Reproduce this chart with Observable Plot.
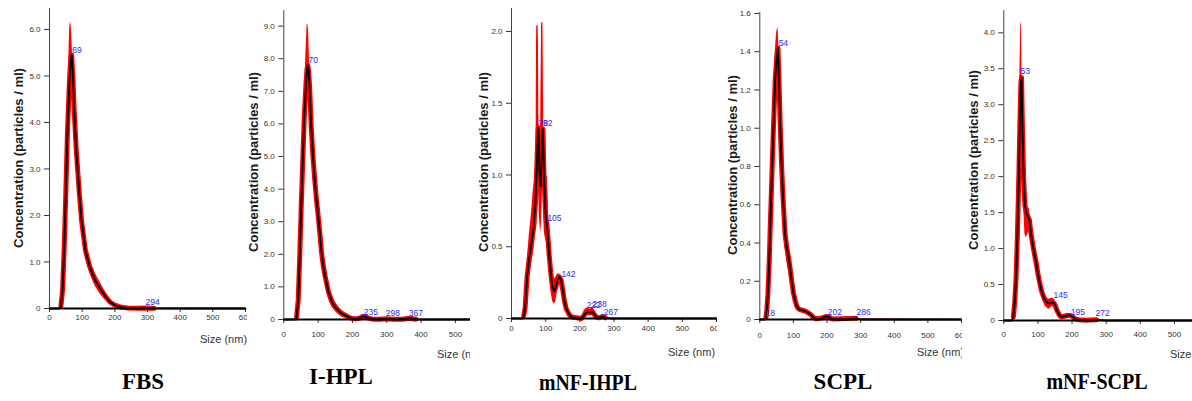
<!DOCTYPE html>
<html><head><meta charset="utf-8">
<script src="https://cdn.jsdelivr.net/npm/d3@7"></script>
<script src="https://cdn.jsdelivr.net/npm/@observablehq/plot@0.6"></script>
<style>
body{margin:0;background:#fff;}
#root{position:relative;width:1192px;height:401px;overflow:hidden;background:#fff;font-family:"Liberation Sans",Arial,sans-serif;}
.panel{position:absolute;top:0;height:372px;overflow:hidden;background:#fff;}
.panel svg{position:absolute;left:0;top:0;}
.ytitle{position:absolute;transform:translate(-50%,-50%) rotate(-90deg);font-weight:bold;font-size:13px;white-space:nowrap;color:#1a1a1a;z-index:5;}
.xtitle{position:absolute;font-size:11px;color:#333;white-space:nowrap;transform:translateY(-50%);}
.name{position:absolute;font-family:"Liberation Serif","Times New Roman",serif;font-weight:bold;font-size:23px;white-space:nowrap;color:#000;z-index:5;}
</style></head><body><div id="root"></div>
<script>
// ---------- data ----------
const panelNames = ["FBS", "I-HPL", "mNF-IHPL", "SCPL", "mNF-SCPL"];
const yTitle = "Concentration (particles / ml)";
const xTitle = "Size (nm)";

// FBS
const fbsSize = [0, 30, 35, 40, 45, 50, 55, 60, 62, 64, 66, 68, 72, 76, 82, 90, 98, 110, 123, 140, 156, 170, 185, 200, 220, 240, 270, 294, 320, 600];
const fbsMean = [0, 0, 0.05, 0.4, 1.3, 2.5, 3.8, 4.7, 5.0, 5.25, 5.4, 5.45, 4.9, 4.2, 3.4, 2.6, 1.9, 1.25, 0.9, 0.6, 0.42, 0.27, 0.14, 0.07, 0.025, 0.01, 0.005, 0.012, 0.003, 0];
const fbsHi   = [0, 0, 0.08, 0.55, 1.6, 3.0, 4.4, 5.6, 6.05, 6.15, 6.1, 5.9, 5.2, 4.4, 3.55, 2.75, 2.05, 1.4, 1.05, 0.75, 0.55, 0.36, 0.2, 0.1, 0.04, 0.02, 0.01, 0.02, 0.005, 0];
const fbsLo   = [0, 0, 0.02, 0.3, 1.1, 2.2, 3.4, 4.3, 4.6, 4.9, 5.1, 5.2, 4.7, 4.0, 3.25, 2.45, 1.75, 1.1, 0.78, 0.48, 0.3, 0.19, 0.09, 0.04, 0.01, 0, 0, 0.005, 0, 0];
const fbsPeakX = [70, 294];
const fbsPeakY = [5.55, 0.13];
const fbsPeakT = ["69", "294"];

// I-HPL
const ihplSize = [0, 33, 37, 42, 46, 50, 55, 60, 65, 68, 70, 72, 75, 80, 85, 90, 95, 100, 105, 110, 115, 120, 130, 140, 150, 160, 170, 180, 190, 200, 210, 220, 230, 235, 245, 260, 280, 298, 320, 345, 367, 385, 400, 545];
const ihplMean = [0, 0, 0.05, 0.6, 1.8, 3.2, 4.8, 6.3, 7.3, 7.7, 7.8, 7.65, 7.2, 5.9, 5.0, 4.3, 3.7, 3.2, 2.65, 2.05, 1.65, 1.35, 0.85, 0.55, 0.38, 0.26, 0.17, 0.12, 0.07, 0.03, 0.02, 0.04, 0.09, 0.1, 0.05, 0.01, 0.005, 0.02, 0.005, 0.01, 0.04, 0.01, 0, 0];
const ihplHi   = [0, 0, 0.1, 0.8, 2.1, 3.6, 5.2, 6.8, 8.3, 9.05, 9.05, 8.9, 7.9, 6.2, 5.25, 4.55, 3.95, 3.45, 2.9, 2.3, 1.9, 1.6, 1.05, 0.75, 0.52, 0.38, 0.27, 0.2, 0.13, 0.07, 0.05, 0.08, 0.14, 0.15, 0.09, 0.03, 0.015, 0.04, 0.015, 0.02, 0.06, 0.02, 0, 0];
const ihplLo   = [0, 0, 0.02, 0.4, 1.5, 2.8, 4.4, 5.9, 6.6, 6.7, 6.7, 6.6, 6.5, 5.6, 4.75, 4.05, 3.45, 2.95, 2.4, 1.8, 1.4, 1.1, 0.65, 0.38, 0.25, 0.15, 0.08, 0.05, 0.02, 0.005, 0, 0.01, 0.05, 0.06, 0.02, 0, 0, 0.005, 0, 0, 0.02, 0, 0, 0];
const ihplPeakX = [72, 233, 297, 364];
const ihplPeakY = [7.94, 0.21, 0.18, 0.18];
const ihplPeakT = ["70", "235", "298", "367"];

// mNF-IHPL
const mihSize = [0, 32, 36, 40, 46, 52, 58, 64, 70, 72, 73, 74, 76, 78, 79, 80, 82, 85, 87, 88, 90, 92, 93, 94, 96, 100, 105, 110, 115, 120, 125, 130, 135, 140, 145, 150, 155, 160, 168, 176, 190, 205, 212, 218, 224, 230, 236, 242, 248, 255, 262, 267, 275, 290, 360, 600];
const mihMean = [0, 0, 0.02, 0.08, 0.3, 0.42, 0.52, 0.62, 0.8, 0.92, 1.0, 1.05, 1.2, 1.33, 1.28, 1.2, 1.0, 0.92, 1.02, 1.1, 1.25, 1.32, 1.22, 1.1, 0.95, 0.72, 0.62, 0.45, 0.32, 0.22, 0.19, 0.22, 0.27, 0.29, 0.27, 0.2, 0.12, 0.07, 0.03, 0.01, 0, 0, 0.02, 0.04, 0.045, 0.04, 0.05, 0.03, 0.01, 0.005, 0.01, 0.015, 0.005, 0, 0, 0];
const mihHi   = [0, 0, 0.04, 0.12, 0.4, 0.58, 0.72, 0.9, 1.0, 1.2, 1.9, 2.04, 2.04, 2.04, 1.9, 1.4, 1.3, 1.25, 1.8, 2.06, 2.06, 2.06, 1.8, 1.4, 1.2, 1.0, 0.98, 0.6, 0.42, 0.3, 0.27, 0.29, 0.31, 0.31, 0.3, 0.25, 0.16, 0.1, 0.05, 0.02, 0, 0.01, 0.05, 0.07, 0.075, 0.065, 0.08, 0.06, 0.025, 0.01, 0.02, 0.025, 0.01, 0, 0, 0];
const mihLo   = [0, 0, 0.005, 0.05, 0.22, 0.3, 0.38, 0.45, 0.6, 0.62, 0.64, 0.65, 0.8, 0.95, 0.9, 0.85, 0.7, 0.6, 0.64, 0.68, 0.85, 0.95, 0.85, 0.75, 0.6, 0.55, 0.5, 0.32, 0.2, 0.12, 0.1, 0.12, 0.2, 0.25, 0.22, 0.14, 0.08, 0.04, 0.01, 0, 0, 0, 0.005, 0.02, 0.02, 0.02, 0.03, 0.01, 0, 0, 0, 0.005, 0, 0, 0, 0];
const mihPeakX = [79, 92, 105, 146, 220, 237, 270];
const mihPeakY = [1.36, 1.36, 0.7, 0.31, 0.09, 0.1, 0.04];
const mihPeakT = ["78", "92", "105", "142", "222", "238", "267"];

// SCPL
const scplSize = [0, 15, 18, 21, 24, 28, 31, 35, 39, 43, 46, 50, 54, 57, 61, 65, 69, 75, 80, 85, 90, 95, 100, 105, 110, 115, 122, 129, 137, 144, 152, 159, 166, 173, 185, 198, 205, 215, 230, 260, 286, 300, 600];
const scplMean = [0, 0, 0.01, 0.05, 0.13, 0.3, 0.48, 0.7, 0.92, 1.12, 1.26, 1.36, 1.42, 1.25, 1.0, 0.8, 0.64, 0.45, 0.38, 0.33, 0.27, 0.2, 0.14, 0.1, 0.07, 0.056, 0.05, 0.047, 0.042, 0.035, 0.025, 0.012, 0.004, 0, 0.008, 0.016, 0.014, 0.003, 0, 0, 0.006, 0, 0];
const scplHi   = [0, 0, 0.02, 0.07, 0.16, 0.34, 0.53, 0.76, 1.0, 1.22, 1.4, 1.5, 1.53, 1.42, 1.08, 0.88, 0.71, 0.52, 0.45, 0.4, 0.33, 0.25, 0.18, 0.13, 0.09, 0.07, 0.062, 0.058, 0.052, 0.045, 0.033, 0.02, 0.01, 0.004, 0.014, 0.024, 0.02, 0.007, 0.002, 0, 0.01, 0.002, 0];
const scplLo   = [0, 0, 0, 0.03, 0.1, 0.26, 0.43, 0.64, 0.85, 1.02, 1.12, 1.18, 1.25, 1.15, 0.93, 0.73, 0.57, 0.38, 0.31, 0.26, 0.21, 0.15, 0.1, 0.07, 0.05, 0.042, 0.038, 0.036, 0.032, 0.025, 0.017, 0.006, 0, 0, 0.003, 0.008, 0.008, 0, 0, 0, 0.002, 0, 0];
const scplPeakX = [56, 17, 202, 288];
const scplPeakY = [1.445, 0.03, 0.04, 0.04];
const scplPeakT = ["54", "18", "202", "286"];

// mNF-SCPL
const mscSize = [0, 24, 28, 32, 36, 40, 44, 47, 50, 52, 55, 58, 62, 66, 70, 75, 80, 85, 90, 95, 100, 105, 110, 115, 120, 125, 130, 135, 140, 145, 150, 155, 160, 165, 170, 180, 188, 195, 202, 210, 220, 240, 272, 300, 553];
const mscMean = [0, 0, 0.05, 0.25, 0.6, 1.2, 2.0, 2.7, 3.3, 3.38, 2.6, 2.0, 1.6, 1.5, 1.45, 1.4, 1.2, 1.05, 0.92, 0.8, 0.65, 0.53, 0.42, 0.35, 0.29, 0.26, 0.24, 0.24, 0.25, 0.25, 0.22, 0.15, 0.1, 0.06, 0.05, 0.06, 0.07, 0.07, 0.05, 0.02, 0.01, 0.005, 0.01, 0, 0];
const mscHi   = [0, 0, 0.08, 0.32, 0.75, 1.45, 2.3, 3.4, 4.15, 4.1, 2.7, 2.1, 1.7, 1.6, 1.58, 1.55, 1.32, 1.13, 0.98, 0.86, 0.71, 0.59, 0.48, 0.42, 0.36, 0.33, 0.3, 0.3, 0.31, 0.31, 0.28, 0.2, 0.14, 0.09, 0.08, 0.09, 0.1, 0.095, 0.07, 0.035, 0.02, 0.01, 0.015, 0, 0];
const mscLo   = [0, 0, 0.02, 0.18, 0.48, 1.0, 1.75, 2.25, 2.6, 2.7, 2.0, 1.6, 1.2, 1.15, 1.2, 1.25, 1.08, 0.97, 0.86, 0.74, 0.59, 0.47, 0.36, 0.28, 0.21, 0.18, 0.16, 0.16, 0.19, 0.19, 0.16, 0.1, 0.06, 0.035, 0.025, 0.035, 0.045, 0.05, 0.03, 0.01, 0.002, 0, 0.005, 0, 0];
const mscPeakX = [49, 146, 196, 269];
const mscPeakY = [3.46, 0.35, 0.11, 0.1];
const mscPeakT = ["53", "145", "195", "272"];

const xTicks6 = [0, 100, 200, 300, 400, 500, 600];
const xTicks5 = [0, 100, 200, 300, 400, 500];
const yTicksFBS = [0, 1, 2, 3, 4, 5, 6];
const yTicksIHPL = [0, 1, 2, 3, 4, 5, 6, 7, 8, 9];
const yTicksMIH = [0, 0.5, 1, 1.5, 2];
const yTicksSCPL = [0, 0.2, 0.4, 0.6, 0.8, 1.0, 1.2, 1.4, 1.6];
const yTicksMSC = [0, 0.5, 1, 1.5, 2, 2.5, 3, 3.5, 4];

// ---------- layout ----------
const panels = [
  {name: panelNames[0], size: fbsSize, mean: fbsMean, lo: fbsLo, hi: fbsHi, px: fbsPeakX, py: fbsPeakY, pt: fbsPeakT,
   left: 0, width: 247, height: 345, ml: 49, mr: 2, mt: 8, mb: 37, xd: [0, 600], yd: [0, 6.45], xt: xTicks6, yt: yTicksFBS, xpad: 2,
   ytx: 18, yty: 158, xtx: 200, xty: 339, nx: 143, ny: 382, sx: 1},
  {name: panelNames[1], size: ihplSize, mean: ihplMean, lo: ihplLo, hi: ihplHi, px: ihplPeakX, py: ihplPeakY, pt: ihplPeakT,
   left: 247, width: 223, height: 365, ml: 36.3, mr: 0, mt: 10, mb: 46, xd: [0, 544], yd: [0, 9.48], xt: xTicks5, yt: yTicksIHPL, xpad: 8,
   ytx: 253, yty: 162, xtx: 437, xty: 354, nx: 341, ny: 377, sx: 1},
  {name: panelNames[2], size: mihSize, mean: mihMean, lo: mihLo, hi: mihHi, px: mihPeakX, py: mihPeakY, pt: mihPeakT,
   left: 470, width: 247, height: 345, ml: 41, mr: 1, mt: 8, mb: 27, xd: [0, 600], yd: [0, 2.16], xt: xTicks6, yt: yTicksMIH, xpad: 3,
   ytx: 483, yty: 162, xtx: 668, xty: 352, nx: 588, ny: 383, sx: 0.86},
  {name: panelNames[3], size: scplSize, mean: scplMean, lo: scplLo, hi: scplHi, px: scplPeakX, py: scplPeakY, pt: scplPeakT,
   left: 717, width: 245, height: 345, ml: 42.3, mr: 1, mt: 12, mb: 26, xd: [0, 600], yd: [0, 1.605], xt: xTicks6, yt: yTicksSCPL, xpad: 9,
   ytx: 732, yty: 165, xtx: 917, xty: 352, nx: 843, ny: 382, sx: 1},
  {name: panelNames[4], size: mscSize, mean: mscMean, lo: mscLo, hi: mscHi, px: mscPeakX, py: mscPeakY, pt: mscPeakT,
   left: 962, width: 230, height: 365, ml: 41.3, mr: 0, mt: 10, mb: 45, xd: [0, 553], yd: [0, 4.31], xt: xTicks5, yt: yTicksMSC, xpad: 7,
   ytx: 973, yty: 160, xtx: 1170, xty: 354, nx: 1097, ny: 382, sx: 0.87}
];

const fmt = d => d === 0 ? "0" : d.toFixed(1);
const root = document.getElementById("root");

for (const p of panels) {
  const rows = p.size.map((s, i) => ({s, m: p.mean[i], lo: p.lo[i], hi: p.hi[i]}));
  const labs = p.pt.map((t, i) => ({x: p.px[i], y: p.py[i], t}));
  const chart = Plot.plot({
    width: p.width, height: p.height,
    marginLeft: p.ml, marginRight: p.mr, marginTop: p.mt, marginBottom: p.mb,
    style: {fontFamily: "'Liberation Sans', Arial, sans-serif", fontSize: "8px", color: "#333", background: "white"},
    x: {domain: p.xd, ticks: p.xt, tickSize: 4, tickPadding: p.xpad, tickFormat: d => String(d), label: null},
    y: {domain: p.yd, ticks: p.yt, tickSize: 5, tickPadding: 4, tickFormat: fmt, label: null},
    marks: [
      Plot.areaY(rows, {x: "s", y1: "lo", y2: "hi", fill: "#ff0000"}),
      Plot.line(rows.filter(d => d.hi > 0.004), {x: "s", y: "m", stroke: "#ff0000", strokeWidth: 5}),
      Plot.line(rows, {x: "s", y: "m", stroke: "#000", strokeWidth: 1.8}),
      Plot.ruleX([0], {stroke: "#444", strokeWidth: 1}),
      Plot.ruleY([0], {stroke: "#000", strokeWidth: 2.2}),
      Plot.text(labs, {x: "x", y: "y", text: "t", fill: "#2b2bff", textAnchor: "start", fontSize: 8.5})
    ]
  });
  const wrap = document.createElement("div");
  wrap.className = "panel";
  wrap.style.left = p.left + "px";
  wrap.style.width = p.width + "px";
  wrap.appendChild(chart);
  const xt = document.createElement("div");
  xt.className = "xtitle";
  xt.textContent = xTitle;
  xt.style.left = (p.xtx - p.left) + "px";
  xt.style.top = p.xty + "px";
  wrap.appendChild(xt);
  root.appendChild(wrap);

  const yt = document.createElement("div");
  yt.className = "ytitle";
  yt.textContent = yTitle;
  yt.style.left = p.ytx + "px";
  yt.style.top = p.yty + "px";
  root.appendChild(yt);

  const nm = document.createElement("div");
  nm.className = "name";
  nm.textContent = p.name;
  nm.style.left = p.nx + "px";
  nm.style.top = p.ny + "px";
  nm.style.transform = `translate(-50%,-50%) scaleX(${p.sx})`;
  root.appendChild(nm);
}
</script></body></html>
